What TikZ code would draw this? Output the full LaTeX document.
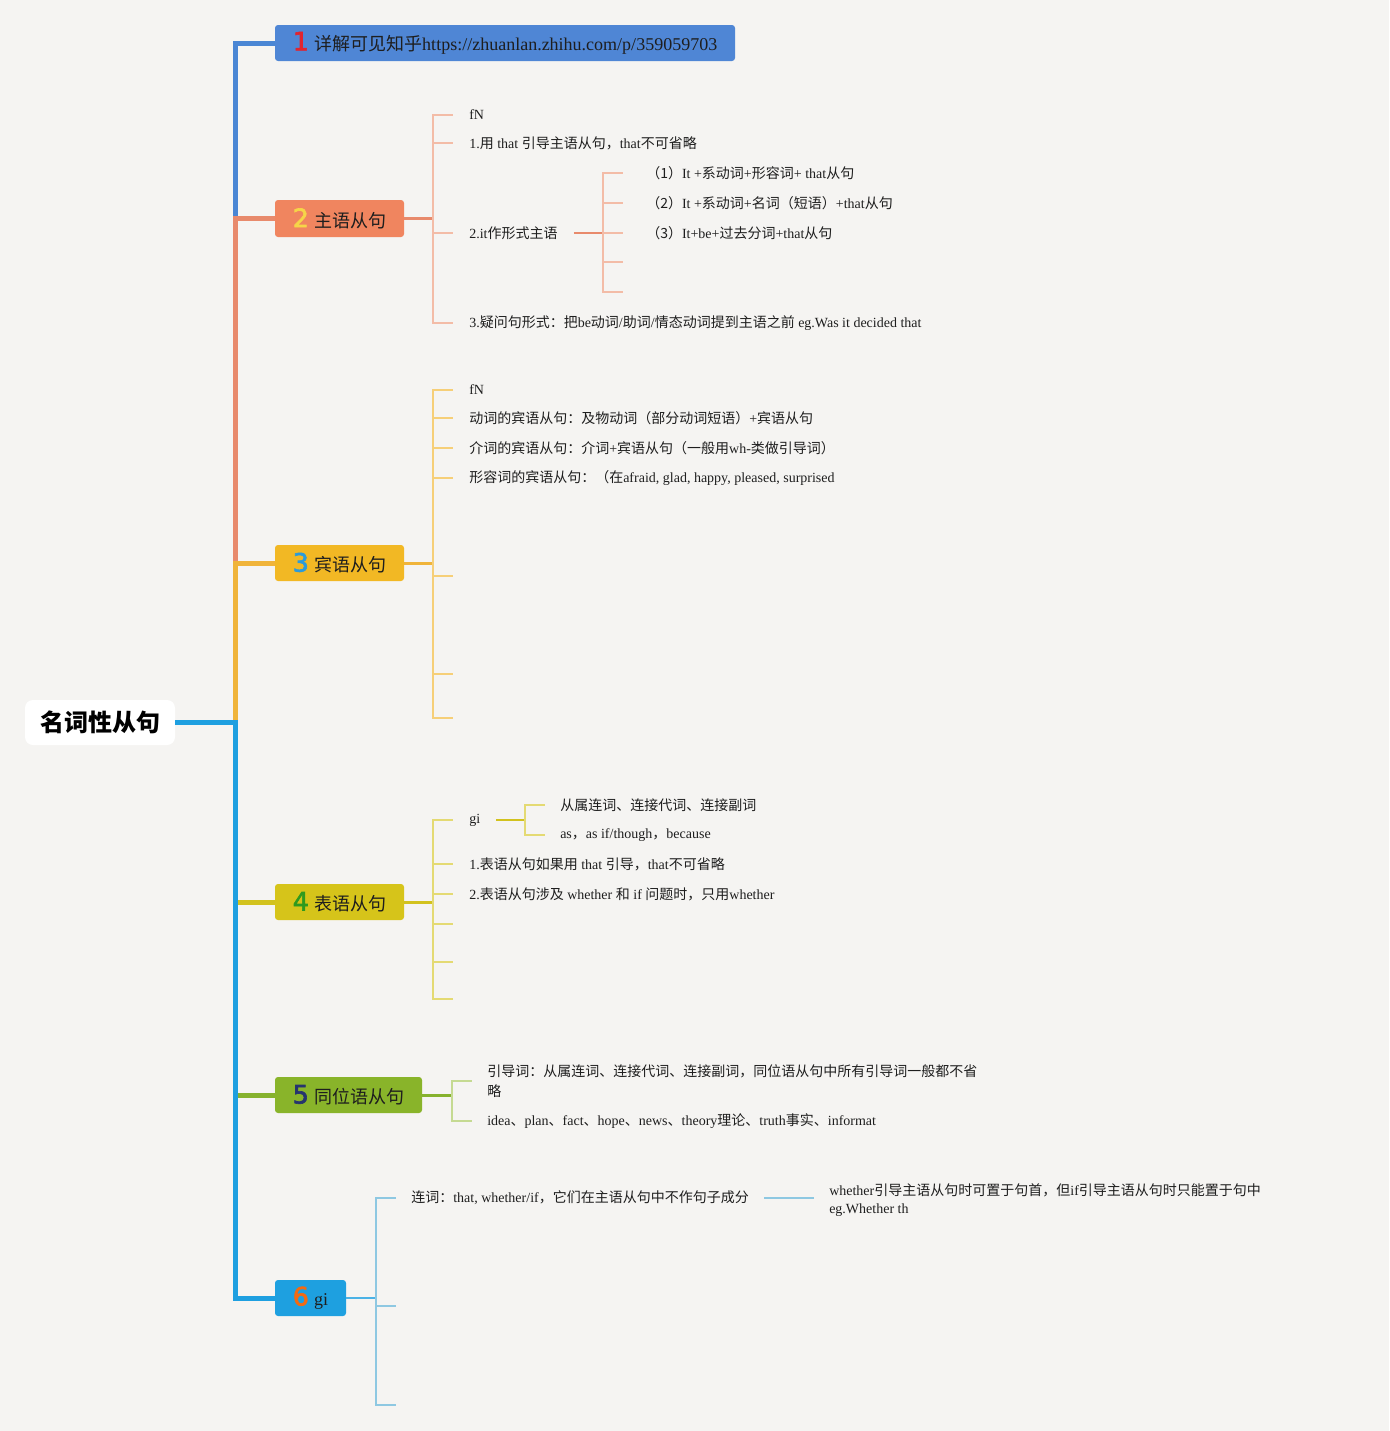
\documentclass[tikz,border=0pt]{standalone}
\usepackage{fontspec}
\setmainfont{Liberation Serif}
\newfontfamily\cjk{Noto Sans CJK SC}
\newfontfamily\numf{DejaVu Sans}[FakeBold=2.5]
\newcommand\zh[1]{{\cjk #1}}
\definecolor{bg}{HTML}{F5F4F2}
\definecolor{txt}{HTML}{1E1E1E}
\definecolor{c1}{HTML}{4A86D4}\definecolor{f1}{HTML}{4F86D5}\definecolor{n1}{HTML}{E0242F}
\definecolor{c2}{HTML}{E88A6C}\definecolor{f2}{HTML}{F0855F}\definecolor{n2}{HTML}{F6D548}\definecolor{k2}{HTML}{F3BCA7}
\definecolor{c3}{HTML}{F0B43A}\definecolor{f3}{HTML}{F2B824}\definecolor{n3}{HTML}{2B9BDA}\definecolor{k3}{HTML}{F6CF78}
\definecolor{c4}{HTML}{D2C21E}\definecolor{f4}{HTML}{D6C41A}\definecolor{n4}{HTML}{2F9A1E}\definecolor{k4}{HTML}{E4DA73}
\definecolor{c5}{HTML}{86B22E}\definecolor{f5}{HTML}{89B42A}\definecolor{n5}{HTML}{26346E}\definecolor{k5}{HTML}{C5DA92}
\definecolor{c6}{HTML}{1E9FE0}\definecolor{f6}{HTML}{1EA0E0}\definecolor{n6}{HTML}{F26A12}\definecolor{k6}{HTML}{8EC8E2}
\tikzset{
  trunk/.style={line width=3.75pt},
  conn/.style={line width=2.25pt},
  brk/.style={line width=1.5pt},
  box/.style={rounded corners=2.25pt, inner sep=0pt, minimum height=27pt, text=txt,
    font=\fontsize{13.5}{15}\selectfont},
  leaf/.style={anchor=west, inner xsep=12pt, inner ysep=2pt, text=txt, align=left,
    font=\fontsize{10.5}{15}\selectfont},
}
\newcommand\bnum[2]{{\numf\fontsize{19}{19}\selectfont\color{#1}#2}\hspace{4pt}}
\begin{document}
\begin{tikzpicture}[x=0.75pt,y=-0.75pt]
\fill[bg] (0,0) rectangle (1389,1431);
\useasboundingbox (0,0) rectangle (1389,1431);

% root
\node[fill=white, rounded corners=6pt, minimum width=112.5pt, minimum height=33.75pt, inner sep=0pt,
  font=\cjk\bfseries\fontsize{18}{20}\selectfont, text=black] (root) at (100,722.5) {名词性从句};

% branch boxes
\node[box, fill=f1, minimum width=345pt] (b1) at (505,43) {\bnum{n1}{1}\zh{详解可见知乎}https://zhuanlan.zhihu.com/p/359059703};
\node[box, fill=f2, minimum width=96.75pt, minimum height=27.75pt] (b2) at (339.5,218.5) {\bnum{n2}{2}\zh{主语从句}};
\node[box, fill=f3, minimum width=96.75pt] (b3) at (339.5,563) {\bnum{n3}{3}\zh{宾语从句}};
\node[box, fill=f4, minimum width=96.75pt] (b4) at (339.5,902) {\bnum{n4}{4}\zh{表语从句}};
\node[box, fill=f5, minimum width=110.25pt] (b5) at (348.5,1095) {\bnum{n5}{5}\zh{同位语从句}};
\node[box, fill=f6, minimum width=53.25pt] (b6) at (310.5,1298) {\bnum{n6}{6}gi};

% trunk
\coordinate (tj) at (235,722.5);
\draw[trunk, c1] (root.east) -- (tj) |- (b1.west);
\draw[trunk, c2] (root.east) -- (tj) |- (b2.west);
\draw[trunk, c3] (root.east) -- (tj) |- (b3.west);
\draw[trunk, c4] (root.east) -- (tj) |- (b4.west);
\draw[trunk, c5] (root.east) -- (tj) |- (b5.west);
\draw[trunk, c6] (root.east) -- (tj) |- (b6.west);

% ---------- branch 2
\coordinate (s2) at (433,218.5);
\node[leaf] (t21) at (453,115) {fN};
\node[leaf] (t22) at (453,143) {1.\zh{用} that \zh{引导主语从句，}that\zh{不可省略}};
\node[leaf] (t23) at (453,233) {2.it\zh{作形式主语}};
\node[leaf] (t24) at (453,323) {3.\zh{疑问句形式：把}be\zh{动词}/\zh{助词}/\zh{情态动词提到主语之前} eg.Was it decided that};
\draw[conn, c2] (b2.east) -- (s2);
\foreach \t in {t21,t22,t23,t24} \draw[brk, k2] (s2) |- (\t.west);
\coordinate (s23) at (603,233);
\node[leaf, inner xsep=17.25pt] (t231) at (623,173) {\zh{（1）}It +\zh{系动词}+\zh{形容词}+ that\zh{从句}};
\node[leaf, inner xsep=17.25pt] (t232) at (623,203) {\zh{（2）}It +\zh{系动词}+\zh{名词（短语）}+that\zh{从句}};
\node[leaf, inner xsep=17.25pt] (t233) at (623,233) {\zh{（3）}It+be+\zh{过去分词}+that\zh{从句}};
\coordinate (e234) at (623,262);
\coordinate (e235) at (623,292);
\draw[conn, c2, line width=1.9pt] (t23.east) -- (s23);
\foreach \t in {t231.west,t232.west,t233.west,e234,e235} \draw[brk, k2] (s23) |- (\t);

% ---------- branch 3
\coordinate (s3) at (433,563);
\node[leaf] (t31) at (453,390) {fN};
\node[leaf] (t32) at (453,418) {\zh{动词的宾语从句：及物动词（部分动词短语）}+\zh{宾语从句}};
\node[leaf] (t33) at (453,448) {\zh{介词的宾语从句：介词}+\zh{宾语从句（一般用}wh-\zh{类做引导词）}};
\node[leaf] (t34) at (453,478) {\zh{形容词的宾语从句：（在}afraid, glad, happy, pleased, surprised};
\coordinate (e35) at (453,576);
\coordinate (e36) at (453,674);
\coordinate (e37) at (453,718);
\draw[conn, c3] (b3.east) -- (s3);
\foreach \t in {t31.west,t32.west,t33.west,t34.west,e35,e36,e37} \draw[brk, k3] (s3) |- (\t);

% ---------- branch 4
\coordinate (s4) at (433,902);
\node[leaf] (t41) at (453,820) {gi};
\node[leaf] (t42) at (453,864) {1.\zh{表语从句如果用} that \zh{引导，}that\zh{不可省略}};
\node[leaf] (t43) at (453,894) {2.\zh{表语从句涉及} whether \zh{和} if \zh{问题时，只用}whether};
\coordinate (e44) at (453,924);
\coordinate (e45) at (453,962);
\coordinate (e46) at (453,999);
\draw[conn, c4] (b4.east) -- (s4);
\foreach \t in {t41.west,t42.west,t43.west,e44,e45,e46} \draw[brk, k4] (s4) |- (\t);
\coordinate (s41) at (525,820);
\node[leaf, inner xsep=11.25pt] (t411) at (545,805) {\zh{从属连词、连接代词、连接副词}};
\node[leaf, inner xsep=11.25pt] (t412) at (545,835) {as\zh{，}as if/though\zh{，}because};
\draw[conn, c4, line width=1.9pt] (t41.east) -- (s41);
\foreach \t in {t411,t412} \draw[brk, k4] (s41) |- (\t.west);

% ---------- branch 5
\coordinate (s5) at (452,1095);
\node[leaf, inner xsep=11.25pt] (t51) at (472,1081) {\zh{引导词：从属连词、连接代词、连接副词，同位语从句中所有引导词一般都不省}\\\zh{略}};
\node[leaf, inner xsep=11.25pt] (t52) at (472,1121) {idea\zh{、}plan\zh{、}fact\zh{、}hope\zh{、}news\zh{、}theory\zh{理论、}truth\zh{事实、}informat};
\draw[conn, c5] (b5.east) -- (s5);
\foreach \t in {t51,t52} \draw[brk, k5] (s5) |- (\t.west);

% ---------- branch 6
\coordinate (s6) at (376,1298);
\node[leaf, inner xsep=11.25pt] (t61) at (396,1198) {\zh{连词：}that, whether/if\zh{，它们在主语从句中不作句子成分}};
\coordinate (e62) at (396,1306);
\coordinate (e63) at (396,1405);
\draw[conn, c6!80!white, line width=1.9pt] (b6.east) -- (s6);
\foreach \t in {t61.west,e62,e63} \draw[brk, k6] (s6) |- (\t);
\node[leaf, inner xsep=11.25pt, font=\fontsize{10.5}{13.5}\selectfont] (t62) at (814,1200) {whether\zh{引导主语从句时可置于句首，但}if\zh{引导主语从句时只能置于句中}\\eg.Whether th};
\draw[brk, k6] (t61.east) -- (t61.east -| t62.west);
\end{tikzpicture}
\end{document}
